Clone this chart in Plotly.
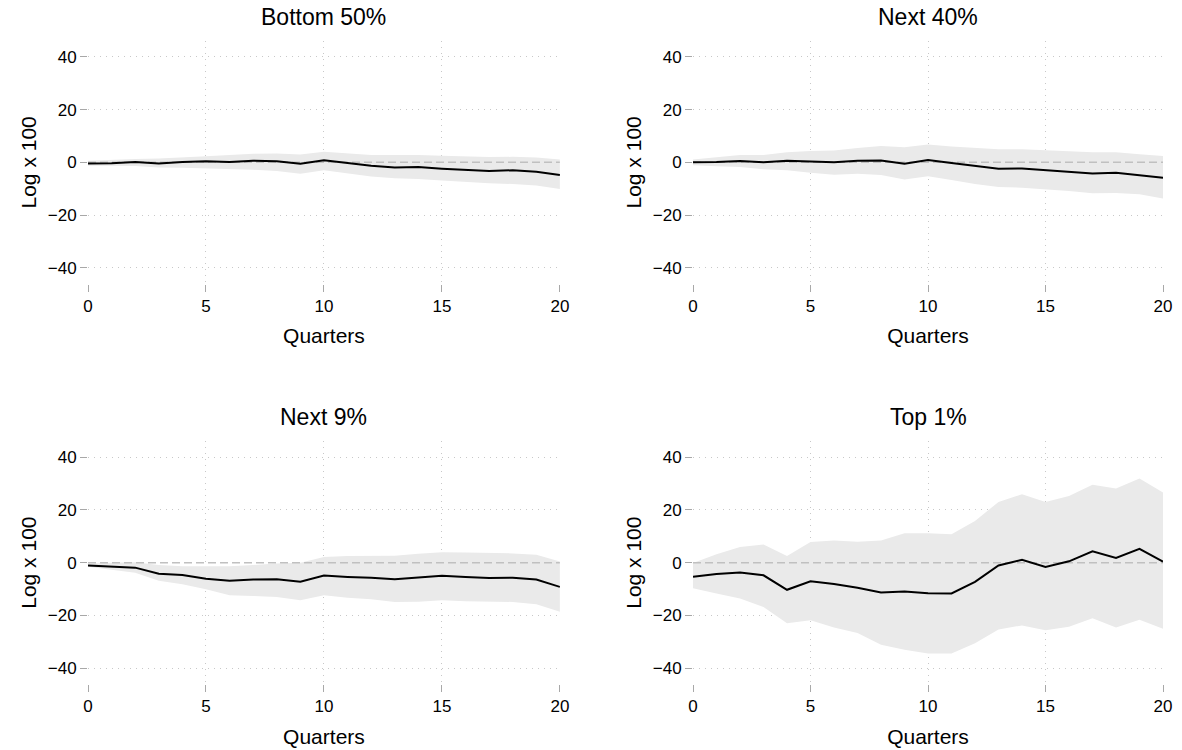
import plotly.graph_objects as go

quarters = list(range(21))

titles = ["Bottom 50%", "Next 40%", "Next 9%", "Top 1%"]

# Point estimates (log x 100)
bottom50_irf = [-0.4, -0.3, 0.1, -0.4, 0.1, 0.4, 0.1, 0.6, 0.4, -0.5, 0.8,
                -0.3, -1.3, -1.9, -1.8, -2.4, -2.9, -3.3, -3.0, -3.6, -4.8]
next40_irf = [0.0, 0.1, 0.5, 0.0, 0.6, 0.3, 0.0, 0.6, 0.75, -0.5, 0.9,
              -0.25, -1.4, -2.4, -2.3, -3.0, -3.5, -4.2, -3.9, -4.8, -5.8]
next9_irf = [-1.1, -1.5, -1.9, -4.2, -4.7, -6.1, -6.9, -6.4, -6.3, -7.2, -4.9,
             -5.4, -5.7, -6.3, -5.7, -5.0, -5.4, -5.8, -5.7, -6.4, -9.2]
top1_irf = [-5.4, -4.3, -3.7, -4.8, -10.3, -7.1, -8.1, -9.5, -11.3, -10.9, -11.6,
            -11.7, -7.3, -1.1, 1.1, -1.6, 0.5, 4.3, 1.8, 5.2, 0.4]

# Confidence band, upper bounds
bottom50_hi = [0.6, 1.0, 1.3, 1.5, 1.8, 2.3, 2.8, 3.3, 3.4, 3.0, 4.0,
               3.3, 2.8, 2.8, 2.8, 2.5, 2.3, 2.0, 2.1, 1.8, 1.1]
next40_hi = [1.1, 1.9, 2.8, 2.8, 3.8, 4.3, 4.5, 5.4, 6.2, 5.7, 6.8,
             6.0, 5.5, 5.0, 5.0, 4.5, 4.2, 3.8, 3.8, 3.1, 2.4]
next9_hi = [-0.4, 0.0, 0.1, -0.9, -1.4, -1.4, -1.4, -0.9, -0.3, 0.0, 2.1,
            2.5, 2.5, 2.6, 3.4, 3.9, 3.8, 3.7, 3.5, 3.0, 0.4]
top1_hi = [-0.1, 3.2, 5.9, 6.9, 2.5, 7.8, 8.4, 7.9, 8.4, 11.1, 11.1,
           10.8, 15.8, 23.0, 25.9, 23.0, 25.3, 29.5, 28.1, 31.9, 26.6]

# Confidence band, lower bounds
bottom50_lo = [-1.3, -1.3, -1.4, -1.9, -2.0, -2.3, -2.5, -2.8, -3.3, -4.3, -3.0,
               -4.2, -5.4, -6.0, -6.3, -6.9, -7.5, -7.9, -8.2, -8.8, -10.1]
next40_lo = [-1.1, -1.5, -1.8, -2.6, -3.0, -3.9, -4.7, -4.3, -4.8, -6.5, -5.3,
             -6.7, -8.2, -9.3, -9.6, -10.2, -10.9, -11.7, -11.6, -12.1, -13.7]
next9_lo = [-1.6, -2.7, -3.8, -6.9, -8.2, -10.1, -12.4, -12.6, -13.0, -14.3, -12.4,
            -13.3, -13.9, -14.9, -14.8, -14.3, -14.6, -14.8, -14.9, -15.8, -18.6]
top1_lo = [-9.7, -11.7, -13.6, -16.8, -23.0, -21.8, -24.6, -26.7, -31.1, -33.0, -34.4,
           -34.4, -30.6, -25.3, -23.8, -25.6, -24.3, -21.1, -24.6, -21.6, -25.1]

irfs = [bottom50_irf, next40_irf, next9_irf, top1_irf]
his = [bottom50_hi, next40_hi, next9_hi, top1_hi]
los = [bottom50_lo, next40_lo, next9_lo, top1_lo]

y_ticks = [-40, -20, 0, 20, 40]
x_ticks = [0, 5, 10, 15, 20]

FONT = "Liberation Sans, Arial, sans-serif"
W, H = 1182, 750
ML, MR, MT, MB = 88, 19, 41, 66

# Panel domains in paper coordinates
x_domains = [[0.0, 0.439], [0.5628, 1.0]]
y_domains = [[0.6225, 1.0], [0.0, 0.3775]]

fig = go.Figure()
layout = {}

for i in range(4):
    row, col = divmod(i, 2)
    n = i + 1
    xa = "x" if n == 1 else f"x{n}"
    ya = "y" if n == 1 else f"y{n}"

    # band
    fig.add_trace(go.Scatter(
        x=quarters + quarters[::-1], y=his[i] + los[i][::-1],
        fill="toself", fillcolor="#EAEAEA", line=dict(width=0),
        mode="lines", hoverinfo="skip", showlegend=False,
        xaxis=xa, yaxis=ya))
    # zero reference line
    fig.add_trace(go.Scatter(
        x=quarters, y=[0] * len(quarters), mode="lines",
        line=dict(color="#C0C0C0", width=1.5, dash="8px,4px"),
        hoverinfo="skip", showlegend=False, xaxis=xa, yaxis=ya))
    # impulse response
    fig.add_trace(go.Scatter(
        x=quarters, y=irfs[i], mode="lines",
        line=dict(color="#000000", width=2),
        showlegend=False, xaxis=xa, yaxis=ya))

    xd = x_domains[col]
    yd = y_domains[row]
    layout["xaxis" if n == 1 else f"xaxis{n}"] = dict(
        domain=xd, anchor=ya, range=[0, 20], automargin=False,
        tickvals=x_ticks, ticks="outside", ticklen=7, tickcolor="#A8A8A8",
        tickwidth=1, showline=False, zeroline=False,
        showgrid=True, gridcolor="#C8C8C8", gridwidth=1, griddash="1px,5px",
        tickfont=dict(family=FONT, size=17, color="#000000"),
        title=dict(text="Quarters", font=dict(family=FONT, size=21, color="#000000"),
                   standoff=13),
    )
    layout["yaxis" if n == 1 else f"yaxis{n}"] = dict(
        domain=yd, anchor=xa, range=[-46, 46], automargin=False,
        tickvals=y_ticks, ticks="outside", ticklen=7, tickcolor="#A8A8A8",
        tickwidth=1, showline=False, zeroline=False,
        showgrid=True, gridcolor="#C8C8C8", gridwidth=1, griddash="1px,5px",
        tickfont=dict(family=FONT, size=17, color="#000000"),
        title=dict(text="Log x 100", font=dict(family=FONT, size=21, color="#000000"),
                   standoff=5),
    )

annotations = []
for i, t in enumerate(titles):
    row, col = divmod(i, 2)
    xd = x_domains[col]
    yd = y_domains[row]
    annotations.append(dict(
        text=t, x=(xd[0] + xd[1]) / 2, y=yd[1], xref="paper", yref="paper",
        xanchor="center", yanchor="bottom", yshift=9, showarrow=False,
        font=dict(family=FONT, size=23, color="#000000")))

fig.update_layout(
    width=W, height=H,
    margin=dict(l=ML, r=MR, t=MT, b=MB, autoexpand=False),
    paper_bgcolor="#FFFFFF", plot_bgcolor="#FFFFFF",
    annotations=annotations,
    **layout,
)

fig.write_html("out.html")
